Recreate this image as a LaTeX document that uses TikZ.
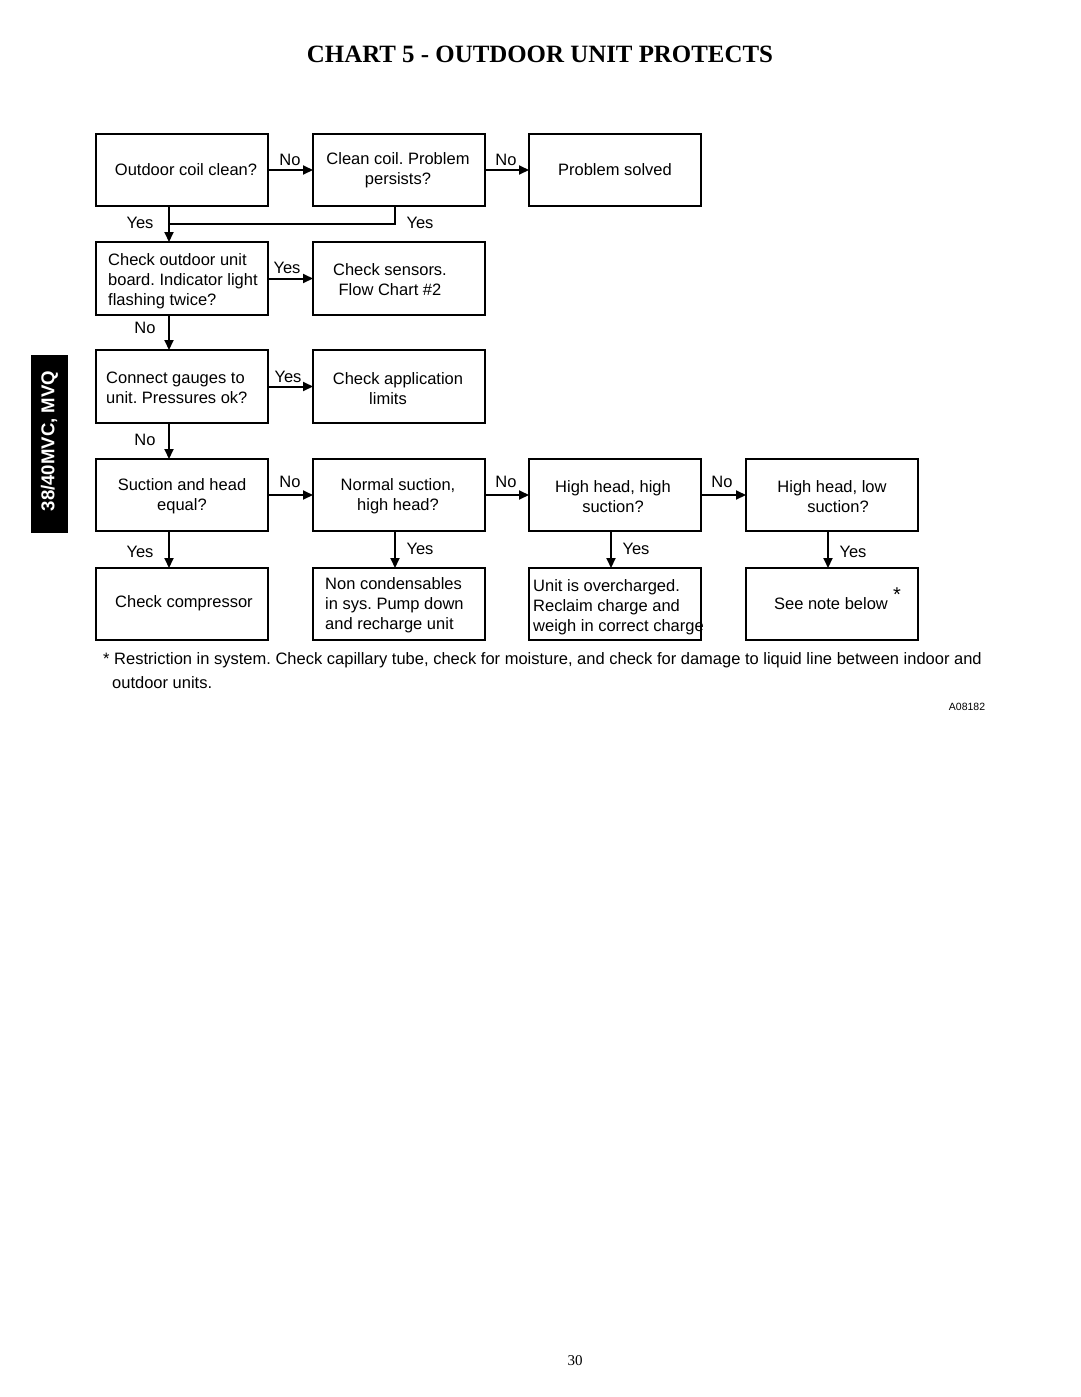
\documentclass[tikz,border=0pt]{standalone}
\usepackage{fontspec}
\setmainfont{Liberation Sans}
\newfontfamily\titlefont{Liberation Serif}
\usetikzlibrary{arrows.meta}
\frenchspacing
\tikzset{
  box/.style={draw, line width=2.8pt, minimum width=172pt, minimum height=72pt, inner sep=0pt, outer sep=0pt},
  txt/.style={inner sep=0pt, yshift=-1.5pt, font=\fontsize{16.5}{20}\selectfont},
  lbl/.style={inner sep=0pt, yshift=-1pt, font=\fontsize{16.5}{20}\selectfont},
  conn/.style={line width=2pt},
  arr/.style={conn, -{Triangle[length=10pt,width=9pt]}}
}
\begin{document}
\begin{tikzpicture}[x=1pt,y=-1pt]
\fill[white] (0,0) rectangle (1080,1397);
\useasboundingbox (0,0) rectangle (1080,1397);

% title
\node[inner sep=0pt, font=\titlefont\bfseries\fontsize{24.9}{28}\selectfont] (title) at (540,54) {CHART 5 - OUTDOOR UNIT PROTECTS};

% side tab
\node[fill=black, minimum width=37pt, minimum height=178pt, inner sep=0pt] (tab) at (49.5,444) {};
\node[rotate=90, text=white, inner sep=0pt, font=\bfseries\fontsize{18.6}{20}\selectfont] (tabtext) at (49.5,441) {38/40MVC, MVQ};

% boxes
\node[box] (b11) at (182,170) {};
\node[box] (b12) at (399,170) {};
\node[box] (b13) at (615,170) {};
\node[box, minimum height=73pt] (b21) at (182,278.5) {};
\node[box, minimum height=73pt] (b22) at (399,278.5) {};
\node[box, minimum height=73pt] (b31) at (182,386.5) {};
\node[box, minimum height=73pt] (b32) at (399,386.5) {};
\node[box] (b41) at (182,495) {};
\node[box] (b42) at (399,495) {};
\node[box] (b43) at (615,495) {};
\node[box] (b44) at (832,495) {};
\node[box] (b51) at (182,604) {};
\node[box] (b52) at (399,604) {};
\node[box] (b53) at (615,604) {};
\node[box] (b54) at (832,604) {};

% box texts
\node[txt] (t11) at (186,168) {Outdoor coil clean?};
\node[txt, align=center] (t12) at (398,169) {Clean coil. Problem\\persists?};
\node[txt] (t13) at (615,168) {Problem solved};
\node[txt, align=left, anchor=west] (t21) at (108,280) {Check outdoor unit\\board. Indicator light\\flashing twice?};
\node[txt, align=center] (t22) at (390,278) {Check sensors.\\Flow Chart \#2};
\node[txt, align=left, anchor=west] (t31) at (106,386) {Connect gauges to\\unit. Pressures ok?};
\node[txt, align=center] (t32) at (398,387) {Check application\\limits\kern20pt};
\node[txt, align=center] (t41) at (182,495) {Suction and head\\equal?};
\node[txt, align=center] (t42) at (398,495) {Normal suction,\\high head?};
\node[txt, align=center] (t43) at (613,495) {High head, high\\suction?};
\node[txt, align=center] (t44) at (832,495) {High head, low\\\kern12pt suction?};
\node[txt] (t51) at (184,602) {Check compressor};
\node[txt, align=left, anchor=west] (t52) at (325,604) {Non condensables\\in sys. Pump down\\and recharge unit};
\node[txt, align=left, anchor=west] (t53) at (533,606) {Unit is overcharged.\\Reclaim charge and\\weigh in correct charge};
\node[txt] (t54) at (831,602) {See note below};
\node[inner sep=0pt, font=\fontsize{20}{20}\selectfont] (star) at (897,595) {*};

% horizontal connectors
\draw[arr] (b11.east) -- (b12.west);
\draw[arr] (b12.east) -- (b13.west);
\draw[arr] (b21.east) -- (b22.west);
\draw[arr] (b31.east) -- (b32.west);
\draw[arr] (b41.east) -- (b42.west);
\draw[arr] (b42.east) -- (b43.west);
\draw[arr] (b43.east) -- (b44.west);

% vertical connectors
\coordinate (join) at (169,224);
\draw[conn] ([xshift=-4pt]b12.south) |- (join);
\draw[arr] ([xshift=-13pt]b11.south) -- ([xshift=-13pt]b21.north);
\draw[arr] ([xshift=-13pt]b21.south) -- ([xshift=-13pt]b31.north);
\draw[arr] ([xshift=-13pt]b31.south) -- ([xshift=-13pt]b41.north);
\draw[arr] ([xshift=-13pt]b41.south) -- ([xshift=-13pt]b51.north);
\draw[arr] ([xshift=-4pt]b42.south) -- ([xshift=-4pt]b52.north);
\draw[arr] ([xshift=-4pt]b43.south) -- ([xshift=-4pt]b53.north);
\draw[arr] ([xshift=-4pt]b44.south) -- ([xshift=-4pt]b54.north);

% connector labels
\node[lbl] (l1) at (290,159) {No};
\node[lbl] (l2) at (506,159) {No};
\node[lbl] (l3) at (140,222) {Yes};
\node[lbl] (l4) at (420,222) {Yes};
\node[lbl] (l5) at (287,267) {Yes};
\node[lbl] (l6) at (145,327) {No};
\node[lbl] (l7) at (288,376) {Yes};
\node[lbl] (l8) at (145,439) {No};
\node[lbl] (l9) at (290,481) {No};
\node[lbl] (l10) at (506,481) {No};
\node[lbl] (l11) at (722,481) {No};
\node[lbl] (l12) at (140,551) {Yes};
\node[lbl] (l13) at (420,548) {Yes};
\node[lbl] (l14) at (636,548) {Yes};
\node[lbl] (l15) at (853,551) {Yes};

% footnote
\node[txt, anchor=west] (fn1) at (103,659) {* Restriction in system. Check capillary tube, check for moisture, and check for damage to liquid line between indoor and};
\node[txt, anchor=west] (fn2) at (112,681) {outdoor units.};
\node[inner sep=0pt, font=\fontsize{10.5}{12}\selectfont] (code) at (967,707) {A08182};

% page number
\node[inner sep=0pt, font=\titlefont\fontsize{15}{16}\selectfont] (page) at (575,1361) {30};
\end{tikzpicture}
\end{document}
